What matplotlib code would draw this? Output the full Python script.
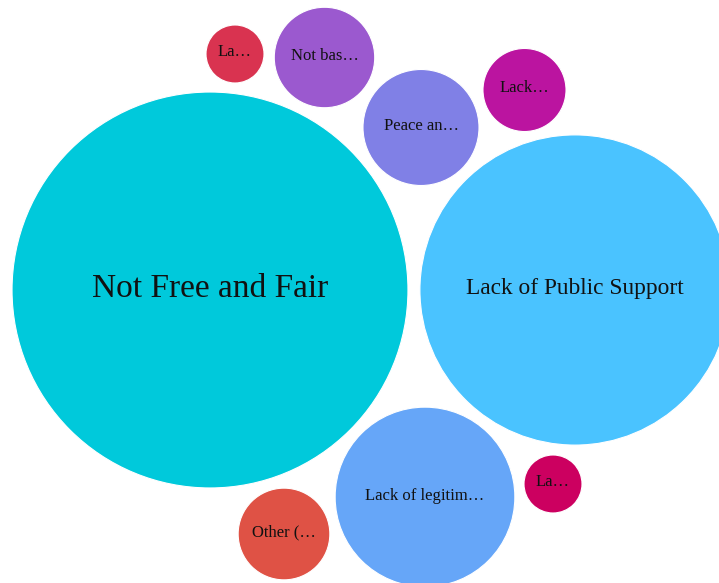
"""Packed bubble chart of reasons (recreated from a reference picture)."""

import numpy as np
import matplotlib
matplotlib.use("Agg")
from matplotlib import pyplot as plt
from matplotlib.patches import Circle


# =============================================================================
# Data
# =============================================================================
labels = [
    'Not Free and Fair',
    'Lack of Public Support',
    'Lack of legitim…',
    'Peace an…',
    'Not bas…',
    'Other (…',
    'Lack…',
    'La…',
    'La…',
]
values = [46.6, 28.6, 9.6, 4.0, 3.0, 2.5, 2.05, 1.0, 1.0]
colors = [
    '#00C9DB',
    '#4AC3FF',
    '#66A6F8',
    '#8080E6',
    '#9B59CF',
    '#DF5245',
    '#BB14A0',
    '#D93350',
    '#CC0060',
]


# =============================================================================
# Layout (bubble centres in pixels, from the packing)
# =============================================================================
centers_x = [210, 575, 425, 421, 324.5, 284, 524.5, 235, 553]
centers_y = [290, 290, 497, 127.5, 57.5, 534, 90, 54, 484]
font_sizes = [24, 16.8, 12, 12, 12, 12, 12, 12, 12]
radius_scale = 29.0
text_dy = -1.5


# =============================================================================
# Plot parameters
# =============================================================================
matplotlib.rcParams['font.family'] = ['Liberation Serif', 'DejaVu Serif']
width_px, height_px = 719, 583
dpi = 100
fig = plt.figure(figsize=(width_px / dpi, height_px / dpi), dpi=dpi)
ax = fig.add_axes([0, 0, 1, 1])
ax.set_xlim(0, width_px)
ax.set_ylim(height_px, 0)
ax.set_aspect('equal')
ax.axis('off')


# =============================================================================
# Draw the bubbles
# =============================================================================
for lab, val, col, cx, cy, fs in zip(labels, values, colors, centers_x,
        centers_y, font_sizes):
    r = radius_scale * np.sqrt(val)
    ax.add_patch(Circle((cx, cy), r, facecolor=col, edgecolor='white',
        linewidth=0.8))
    ax.text(cx, cy + text_dy, lab, ha='center', va='center', fontsize=fs,
        color='#111111')

fig.savefig('out.png', dpi=dpi)
plt.close()
